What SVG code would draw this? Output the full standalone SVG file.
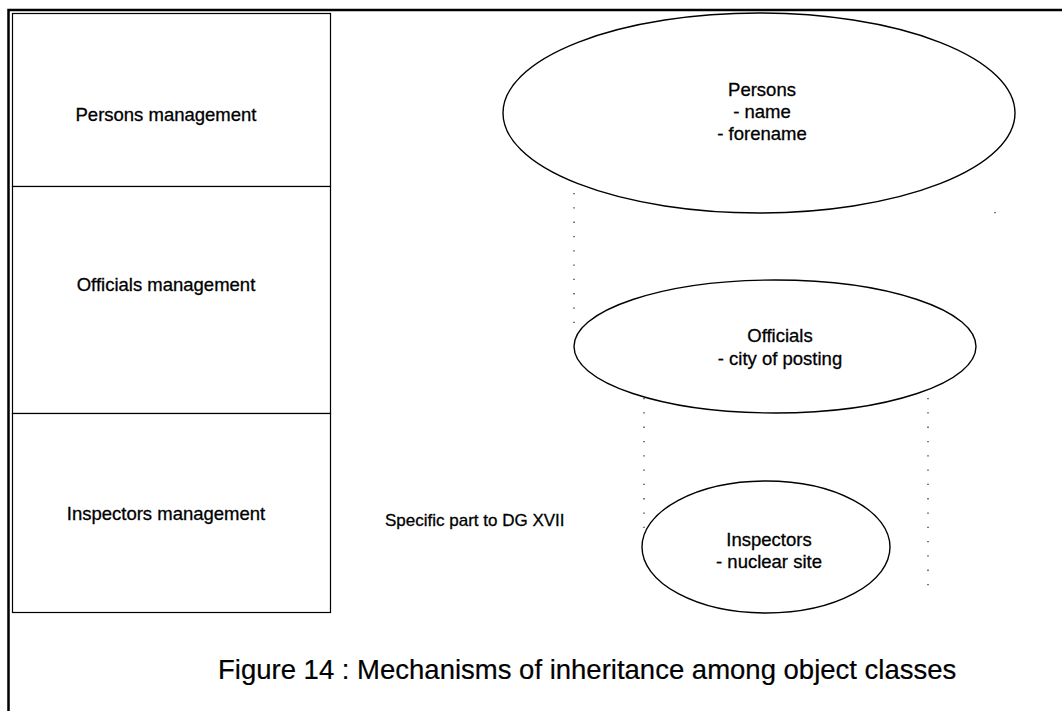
<svg xmlns="http://www.w3.org/2000/svg" width="1062" height="711" viewBox="0 0 1062 711">
  <style>
    .frame { fill: none; stroke: #000; stroke-width: 2.5; }
    .box { fill: #fff; stroke: #000; stroke-width: 1.2; }
    .cls { fill: #fff; stroke: #000; stroke-width: 1.4; }
    .dots { fill: none; stroke: #333; stroke-width: 1.3; stroke-dasharray: 1.3 13; }
    text { font-family: "Liberation Sans", Arial, sans-serif; fill: #000; stroke: #000; stroke-width: 0.3; }
    .lbl { font-size: 18.5px; text-anchor: middle; }
    .side { font-size: 17px; }
    .caption { font-size: 27.5px; stroke-width: 0.2; }
  </style>

  <rect width="1062" height="711" fill="#fff"/>

  <!-- outer page frame (left and top edges only) -->
  <path class="frame" d="M8.5 711 V10 H1062"/>

  <!-- stacked management modules -->
  <g id="persons-management">
    <rect class="box" x="12.5" y="13.5" width="318" height="173"/>
    <text class="lbl" x="166" y="121">Persons management</text>
  </g>
  <g id="officials-management">
    <rect class="box" x="12.5" y="186.5" width="318" height="227"/>
    <text class="lbl" x="166" y="291">Officials management</text>
  </g>
  <g id="inspectors-management">
    <rect class="box" x="12.5" y="413.5" width="318" height="199"/>
    <text class="lbl" x="166" y="520">Inspectors management</text>
  </g>

  <!-- inheritance guides between class ellipses -->
  <g id="connectors">
    <line class="dots" x1="574" y1="193" x2="574" y2="332"/>
    <line class="dots" x1="995" y1="212" x2="995" y2="214"/>
    <line class="dots" x1="644" y1="398" x2="644" y2="530"/>
    <line class="dots" x1="928" y1="398" x2="928" y2="592"/>
  </g>

  <g id="persons">
    <ellipse class="cls" cx="759" cy="113" rx="256" ry="100"/>
    <text class="lbl" x="762" y="96">Persons</text>
    <text class="lbl" x="762" y="118">- name</text>
    <text class="lbl" x="762" y="140">- forename</text>
  </g>

  <g id="officials">
    <ellipse class="cls" cx="775" cy="346.5" rx="201" ry="66.5"/>
    <text class="lbl" x="780" y="342">Officials</text>
    <text class="lbl" x="780" y="365">- city of posting</text>
  </g>

  <g id="inspectors">
    <ellipse class="cls" cx="766" cy="547" rx="124" ry="66"/>
    <text class="lbl" x="769" y="546">Inspectors</text>
    <text class="lbl" x="769" y="568">- nuclear site</text>
  </g>

  <text id="dg-xvii" class="side" x="385" y="526">Specific part to DG XVII</text>

  <text id="caption" class="caption" x="218" y="679">Figure 14 : Mechanisms of inheritance among object classes</text>
</svg>
